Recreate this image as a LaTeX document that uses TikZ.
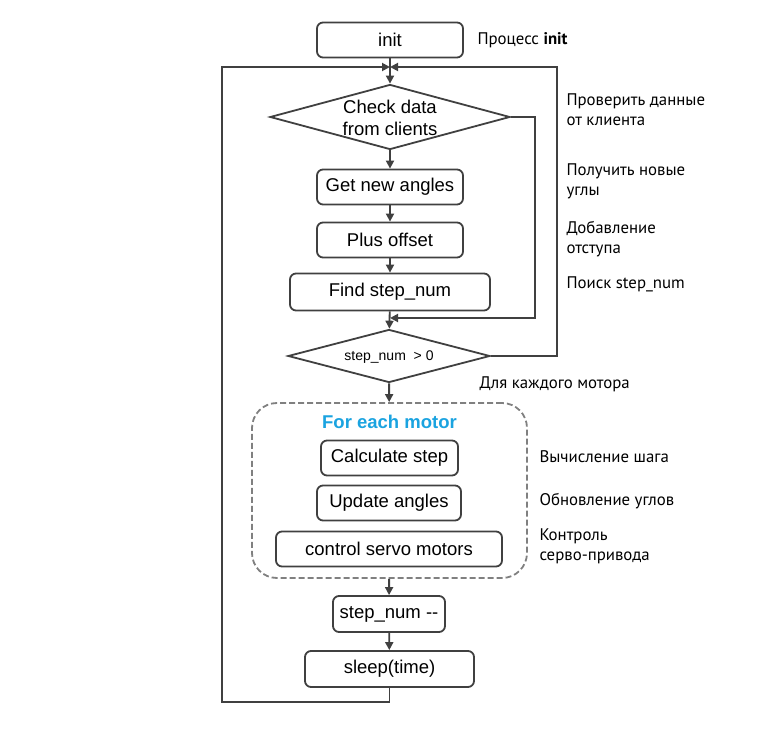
\documentclass[tikz,border=0pt]{standalone}
\usepackage{fontspec}
\setmainfont{Liberation Sans}
\newfontfamily\rufont{PT Sans}
\usetikzlibrary{shapes.geometric, arrows.meta}
\definecolor{linegray}{HTML}{404040}
\definecolor{dashgray}{HTML}{808080}
\definecolor{loopblue}{HTML}{1AA3E0}

\begin{document}
\begin{tikzpicture}[x=1pt, y=-1pt,
    box/.style={draw=linegray, line width=1.8pt, rounded corners=6pt, minimum height=35pt, inner sep=0pt, font=\fontsize{18.5}{21}\selectfont},
    decision/.style={draw=linegray, line width=1.8pt, diamond, inner sep=0pt},
    flow/.style={draw=linegray, line width=1.8pt, -{Triangle[length=8pt,width=8pt]}},
    note/.style={anchor=west, align=left, font=\rufont\fontsize{16.8}{20}\selectfont}]
    \useasboundingbox (0,0) rectangle (780,730);

    % Main column
    \node[box, minimum width=146pt] (init) at (390,40) {init};
    \node[decision, minimum width=240pt, minimum height=65pt] (check) at (390,117) {};
    \node[align=center, font=\fontsize{18.5}{22}\selectfont] (checktext) at (390,118) {Check data\\from clients};
    \node[box, minimum width=146pt] (angles) at (390,187) {Get new angles};
    \node[box, minimum width=146pt] (offset) at (390,240) {Plus offset};
    \node[box, minimum width=200pt, minimum height=37pt] (find) at (390,292) {Find step\_num};
    \node[decision, minimum width=202pt, minimum height=53pt] (stepcheck) at (389,356) {};
    \node[font=\fontsize{14}{16}\selectfont] (steptext) at (389,357) {step\_num~~> 0};

    % Loop over the motors
    \node[draw=dashgray, line width=1.8pt, dash pattern=on 6pt off 3pt, rounded corners=25pt,
          minimum width=275pt, minimum height=175pt] (motors) at (389.5,490.5) {};
    \node[font=\bfseries\fontsize{18.5}{21}\selectfont, text=loopblue] (foreach) at (389.5,422) {For each motor};
    \node[box, minimum width=137pt] (calc) at (389.5,458) {Calculate step};
    \node[box, minimum width=144pt] (update) at (389,503) {Update angles};
    \node[box, minimum width=226pt] (servo) at (389,549) {control servo motors};

    \node[box, minimum width=112pt, minimum height=36pt] (dec) at (389,614) {step\_num {-}{-}};
    \node[box, minimum width=169pt, minimum height=36pt] (sleep) at (389.5,669) {sleep(time)};

    % Corner points of the connectors
    \coordinate (join) at (390,67);
    \coordinate (merge) at (390,318);
    \coordinate (skip) at (535,318);
    \coordinate (loopR) at (557,67);
    \coordinate (loopL) at (222,702);

    % Connectors
    \draw[flow] (init) -- (check);
    \draw[flow] (check) -- (angles);
    \draw[flow] (angles) -- (offset);
    \draw[flow] (offset) -- (find);
    \draw[flow] (find) -- (stepcheck);
    \draw[flow] (check.east) -| (skip) -- (merge);
    \draw[flow] (stepcheck.east) -| (loopR) -- (join);
    \draw[flow] (stepcheck) -- (motors);
    \draw[flow] (motors) -- (dec);
    \draw[flow] (dec) -- (sleep);
    \draw[flow] (sleep.south) |- (loopL) |- (join);

    % Notes on the right
    \node[note] (ninit) at (474,40) {Процесс \textbf{init}};
    \node[note] (ncheck) at (563,110) {Проверить данные\\от клиента};
    \node[note] (nangles) at (563,181) {Получить новые\\углы};
    \node[note] (noffset) at (563,239) {Добавление\\отступа};
    \node[note] (nfind) at (563,284) {Поиск step\_num};
    \node[note] (nmotor) at (476,384) {Для каждого мотора};
    \node[note] (ncalc) at (536,457) {Вычисление шага};
    \node[note] (nupdate) at (536,501) {Обновление углов};
    \node[note] (nservo) at (536,546) {Контроль\\серво-привода};
\end{tikzpicture}
\end{document}
